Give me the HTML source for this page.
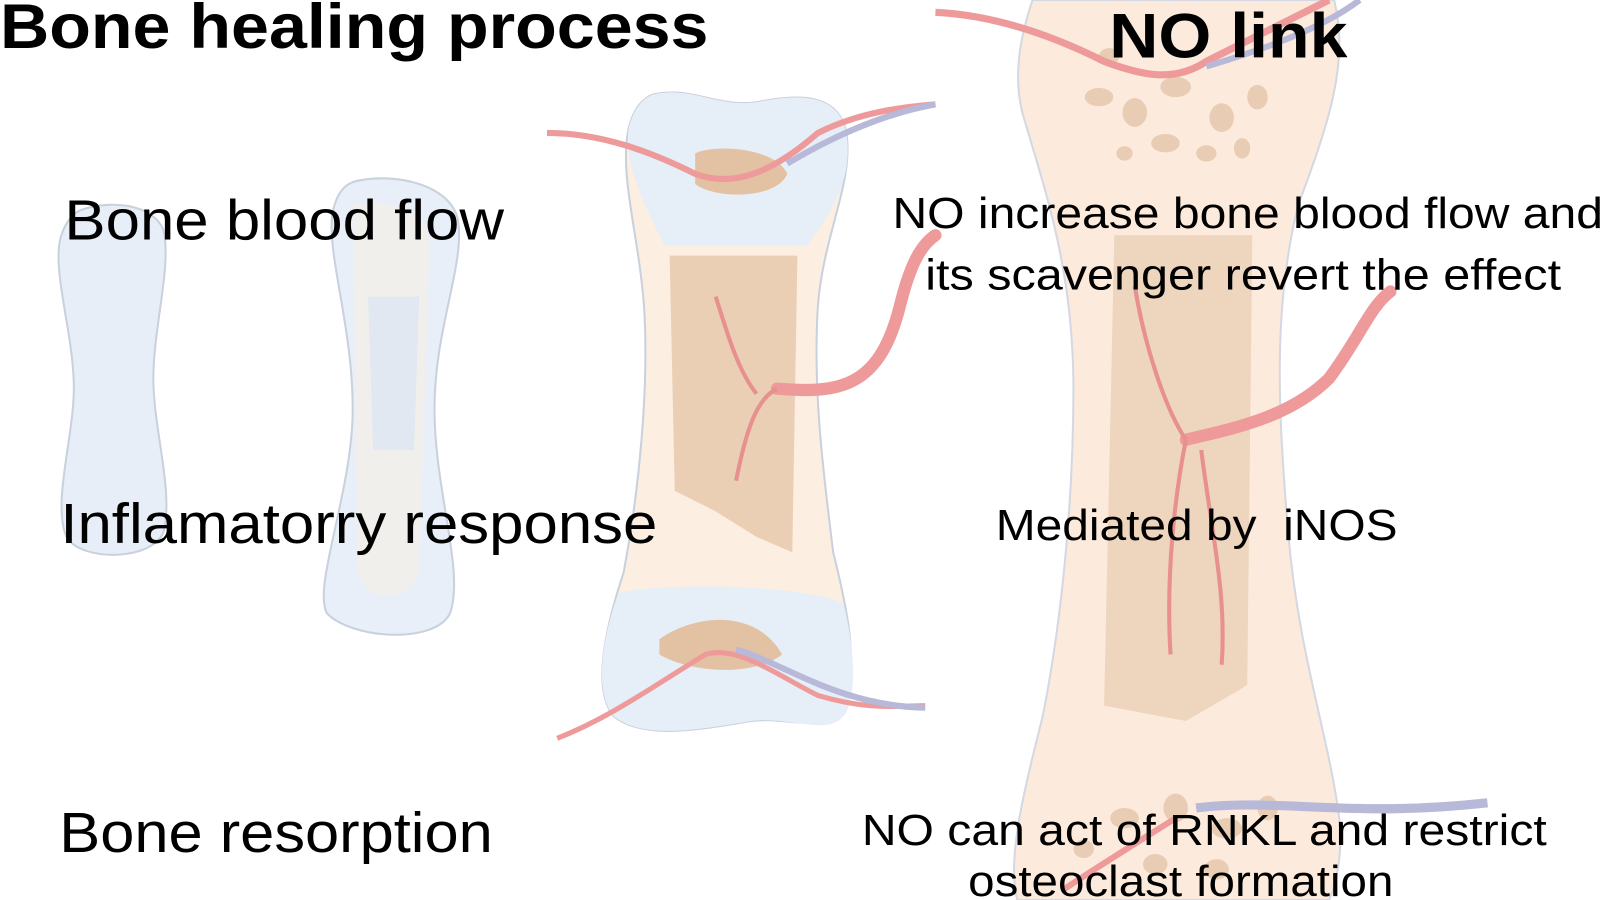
<!DOCTYPE html>
<html><head><meta charset="utf-8"><style>
html,body{margin:0;padding:0;background:#fff;}
svg{display:block;}
text{font-family:"Liberation Sans",sans-serif;fill:#000;}
</style></head><body>
<svg width="1603" height="900" viewBox="0 0 1568 880" preserveAspectRatio="none">
<!-- bone 1 -->
<path d="M80,205 C110,195 150,200 160,225 C168,260 150,320 150,370 C150,420 170,480 160,520 C150,548 80,550 65,525 C50,490 75,420 72,370 C70,320 50,260 60,230 C65,215 72,208 80,205Z" fill="#e8eef8" stroke="#c9d1dc" stroke-width="2"/>
<!-- bone 2 -->
<path d="M345,178 C380,168 440,178 448,215 C455,260 425,320 425,400 C425,480 455,560 440,600 C425,630 345,625 320,600 C305,575 345,480 345,400 C345,320 320,250 325,210 C328,192 335,182 345,178Z" fill="#e9eff8" stroke="#c9d1dc" stroke-width="2"/>
<path d="M345,200 C380,195 420,205 420,240 L410,560 C400,590 360,590 350,560Z" fill="#f6efe3" opacity="0.6"/>
<path d="M360,290 L410,290 L405,440 L365,440Z" fill="#dde6f2" opacity="0.8"/>
<!-- bone 3 -->
<path d="M640,92 C680,85 700,105 740,100 C780,92 820,90 828,130 C835,180 805,230 800,300 C795,380 805,460 815,540 C830,600 840,650 825,690 C810,720 770,700 735,705 C690,712 630,725 600,700 C580,675 590,620 610,560 C625,480 635,380 630,300 C625,230 605,170 615,125 C620,105 630,95 640,92Z" fill="#fcefe2" stroke="#c9d1dc" stroke-width="2"/>
<path d="M640,92 C680,85 700,105 740,100 C780,92 820,90 828,130 C835,180 810,210 790,240 L650,240 C630,200 610,160 615,125 C620,105 630,95 640,92Z" fill="#e6eef8"/>
<path d="M605,580 C640,570 780,570 825,590 C840,650 835,690 825,700 C810,720 770,700 735,705 C690,712 630,725 600,700 C580,675 590,620 605,580Z" fill="#e6eef8"/>
<path d="M655,250 L780,250 L775,540 L740,525 L700,500 L660,480Z" fill="#e6c9ad" opacity="0.85"/>
<path d="M680,150 C700,140 760,145 770,170 C760,195 700,195 680,180Z" fill="#e3c2a3"/>
<path d="M645,625 C680,600 740,595 765,640 C740,660 680,660 645,640Z" fill="#e3c2a3"/>
<path d="M760,380 C820,385 860,380 880,300 C890,260 900,240 915,230" stroke="#ee9a9a" stroke-width="12" fill="none" stroke-linecap="round"/>
<path d="M760,380 C740,390 730,420 720,470 M740,385 C720,360 710,320 700,290" stroke="#e89090" stroke-width="4" fill="none"/>
<path d="M535,130 C590,130 640,150 680,170 C720,185 760,165 800,130 C840,110 880,105 915,102" stroke="#ee9a9a" stroke-width="6" fill="none"/>
<path d="M770,160 C820,130 870,110 915,102" stroke="#b8b8d8" stroke-width="6" fill="none"/>
<path d="M545,722 C600,700 640,670 690,640 C720,630 760,660 800,680 C850,695 880,690 905,690" stroke="#ee9a9a" stroke-width="5" fill="none"/>
<path d="M720,635 C770,650 820,690 905,692" stroke="#b8b8d8" stroke-width="6" fill="none"/>
<!-- bone 4 -->
<path d="M1010,0 L1305,0 C1320,60 1300,120 1270,200 C1245,300 1250,400 1260,520 C1270,640 1300,720 1310,800 C1315,850 1300,880 1300,880 L995,880 C985,840 1000,780 1020,700 C1040,600 1050,480 1050,380 C1050,260 1020,180 1000,110 C990,70 1000,30 1010,0Z" fill="#fcebdc" stroke="#d4d8e2" stroke-width="2"/>
<path d="M1090,230 L1225,230 L1220,670 L1160,705 L1080,690Z" fill="#e8cdb4" opacity="0.75"/>
<g fill="#e8cdb4">
<ellipse cx="1075" cy="95" rx="14" ry="9"/><ellipse cx="1110" cy="110" rx="12" ry="14"/><ellipse cx="1150" cy="85" rx="15" ry="10"/><ellipse cx="1195" cy="115" rx="12" ry="14"/><ellipse cx="1230" cy="95" rx="10" ry="12"/><ellipse cx="1140" cy="140" rx="14" ry="9"/><ellipse cx="1180" cy="150" rx="10" ry="8"/><ellipse cx="1100" cy="150" rx="8" ry="7"/><ellipse cx="1215" cy="145" rx="8" ry="10"/><ellipse cx="1085" cy="55" rx="10" ry="8"/>
<ellipse cx="1100" cy="800" rx="14" ry="10"/><ellipse cx="1150" cy="790" rx="12" ry="14"/><ellipse cx="1200" cy="810" rx="15" ry="10"/><ellipse cx="1240" cy="790" rx="10" ry="12"/><ellipse cx="1130" cy="845" rx="12" ry="10"/><ellipse cx="1190" cy="850" rx="12" ry="10"/><ellipse cx="1060" cy="830" rx="10" ry="9"/>
</g>
<path d="M1160,430 C1200,420 1260,410 1300,370 C1330,330 1340,300 1360,285" stroke="#ee9a9a" stroke-width="12" fill="none" stroke-linecap="round"/>
<path d="M1160,430 C1140,400 1120,340 1110,280 M1160,430 C1150,480 1140,560 1145,640 M1175,440 C1185,520 1200,580 1195,650" stroke="#e89090" stroke-width="4" fill="none"/>
<path d="M915,12 C980,15 1040,40 1080,60 C1120,75 1150,80 1180,60 C1220,40 1260,20 1300,0" stroke="#ee9a9a" stroke-width="7" fill="none"/>
<path d="M1180,65 C1230,50 1290,30 1330,0" stroke="#b8b8d8" stroke-width="6" fill="none"/>
<path d="M1170,790 C1250,780 1320,800 1455,785" stroke="#b8b8d8" stroke-width="9" fill="none"/>
<path d="M1040,870 C1070,850 1110,825 1150,800" stroke="#ee9a9a" stroke-width="6" fill="none"/>
<!-- text -->
<text x="0" y="47" font-size="62" font-weight="bold" textLength="693" lengthAdjust="spacingAndGlyphs">Bone healing process</text>
<text x="1085" y="56" font-size="62" font-weight="bold" textLength="233" lengthAdjust="spacingAndGlyphs">NO link</text>
<text x="63" y="234" font-size="55" textLength="430" lengthAdjust="spacingAndGlyphs">Bone blood flow</text>
<text x="59" y="531" font-size="55" textLength="584" lengthAdjust="spacingAndGlyphs">Inflamatorry response</text>
<text x="58" y="833" font-size="55" textLength="424" lengthAdjust="spacingAndGlyphs">Bone resorption</text>
<text x="873" y="223" font-size="43" textLength="695" lengthAdjust="spacingAndGlyphs">NO increase bone blood flow and</text>
<text x="905" y="283" font-size="43" textLength="622" lengthAdjust="spacingAndGlyphs">its scavenger revert the effect</text>
<text x="974" y="528" font-size="43" xml:space="preserve" textLength="393" lengthAdjust="spacingAndGlyphs">Mediated by  iNOS</text>
<text x="843" y="826" font-size="43" textLength="670" lengthAdjust="spacingAndGlyphs">NO can act of RNKL and restrict</text>
<text x="947" y="876" font-size="43" textLength="416" lengthAdjust="spacingAndGlyphs">osteoclast formation</text>
</svg>
</body></html>
